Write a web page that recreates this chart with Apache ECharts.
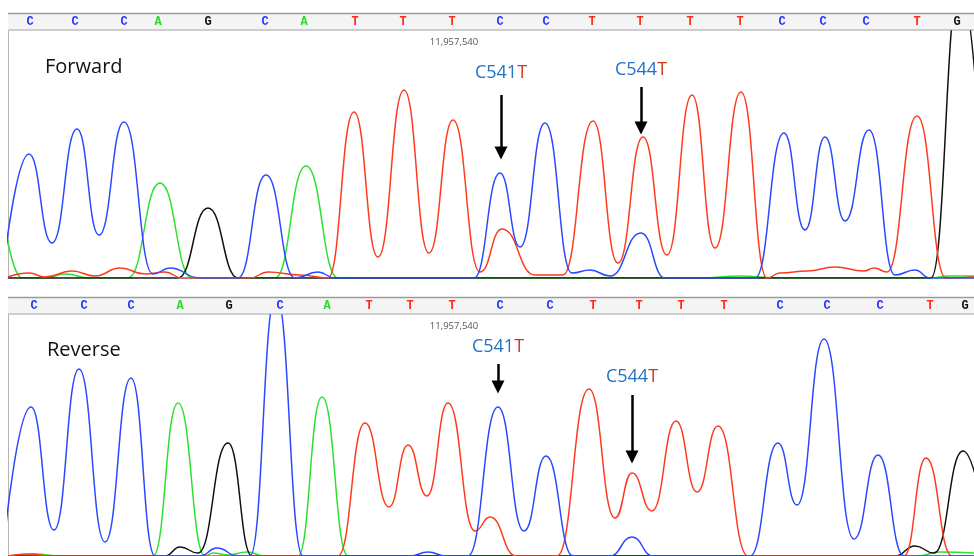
<!DOCTYPE html>
<html><head><meta charset="utf-8">
<script src="https://cdn.jsdelivr.net/npm/echarts@6/dist/echarts.min.js"></script>
<style>html,body{margin:0;padding:0;background:#fff}#c{width:974px;height:556px}</style>
</head><body><div id="c"></div>
<script>
// ---- base calls ----
const bases = ['C','C','C','A','G','C','A','T','T','T','C','C','T','T','T','T','C','C','C','T','G'];
const forwardBasePos = [30,75,124,158,208,265,304,355,403,452,500,546,592,640,690,740,782,823,866,917,957];
const reverseBasePos = [34,84,131,180,229,280,327,369,410,452,500,550,593,639,681,724,780,827,880,930,965];
const positionLabel = '11,957,540';

// ---- mutations ----
const mutRef = ['C','C'];
const mutNum = ['541','544'];
const mutAlt = ['T','T'];
const forwardMutX = [501, 641];
const forwardMutLabelY = [205, 208.5];
const forwardArrowFrom = [183, 191];
const forwardArrowTo = [125, 150];
const reverseMutX = [498, 632];
const reverseMutLabelY = [209, 179];
const reverseArrowFrom = [192, 161];
const reverseArrowTo = [169, 99];

// ---- Forward traces: [scan, signal] extrema ----
const fwdC = [[6,30],[29,124],[52,35],[77,149],[99,43],[124,156],[153,4],[170,10],[200,0],[238,0],[266,103],[295,0],[318,6],[335,0],[474,0],[500,105],[520,31],[545,155],[572,5],[590,8],[610,2],[641,45],[665,0],[755,0],[784,145],[805,48],[825,141],[845,57],[869,148],[895,3],[915,8],[930,0],[974,0]];
const fwdA = [[4,56],[22,0],[45,0],[65,4],[90,0],[128,0],[160,95],[192,0],[275,0],[306,112],[338,0],[700,0],[740,2],[780,0],[930,0],[950,2],[974,2]];
const fwdG = [[8,0],[178,0],[208,70],[238,0],[931,0],[960,295],[988,0]];
const fwdT = [[8,1],[29,5],[45,1],[72,7],[95,2],[120,10],[145,4],[165,6],[182,0],[250,0],[268,6],[300,3],[328,0],[354,166],[378,21],[404,188],[429,25],[453,158],[480,6],[502,49],[535,3],[563,3],[593,157],[618,15],[643,141],[667,23],[692,183],[715,30],[741,186],[767,0],[780,5],[807,7],[835,11],[864,7],[874,10],[887,6],[917,162],[946,0],[974,1]];

// ---- Reverse traces ----
const revC = [[5,22],[31,149],[54,26],[79,187],[105,14],[131,178],[155,0],[200,0],[217,8],[238,0],[250,0],[276,262],[303,0],[410,0],[428,4],[446,0],[468,0],[498,149],[524,25],[546,100],[573,0],[610,0],[632,19],[653,0],[750,0],[778,113],[797,51],[824,217],[854,17],[878,101],[904,0],[974,0]];
const revA = [[8,0],[35,2],[60,0],[153,0],[178,153],[205,0],[213,3],[228,1],[247,4],[265,0],[298,0],[322,159],[348,0],[917,0],[940,4],[974,3]];
const revG = [[8,0],[165,0],[180,9],[198,3],[228,113],[252,0],[895,0],[915,10],[934,3],[963,105],[990,0]];
const revT = [[8,0],[30,2],[50,0],[338,0],[365,133],[389,49],[408,111],[427,60],[448,153],[475,25],[490,39],[516,0],[557,0],[589,167],[615,38],[632,83],[652,45],[676,135],[697,64],[718,130],[748,0],[904,0],[926,98],[952,0],[974,0]];

const baseColor = {A:'#22dd22', C:'#2433ff', G:'#111111', T:'#ff2a1a'};
const traceColor = {A:'#2ee02e', C:'#2a48ff', G:'#111111', T:'#ff3a1c'};
const mutBlue = '#1f72c8', mutRed = '#cc3a22';

const chart = echarts.init(document.getElementById('c'), null, {renderer:'canvas'});

function hiddenX(gi){ return {gridIndex:gi, type:'value', min:8, max:974, show:false}; }
function traceX(gi){ return {gridIndex:gi, type:'value', min:8, max:974,
  axisLine:{show:true, onZero:false, lineStyle:{color:'#aaaaaa', width:1}}, axisTick:{show:false}, axisLabel:{show:false}, splitLine:{show:false}}; }
function traceY(gi, max){ return {gridIndex:gi, type:'value', min:0, max:max,
  axisLine:{show:true, lineStyle:{color:'#b4b4b4', width:1}}, axisTick:{show:false}, axisLabel:{show:false}, splitLine:{show:false}}; }

function baseSeries(gi, pos){
  return {type:'scatter', xAxisIndex:gi, yAxisIndex:gi, symbolSize:0, silent:true, z:5,
    itemStyle:{opacity:1},
    data: bases.map((b,i)=>({value:[pos[i],0.5], label:{color:baseColor[b]}, name:b})),
    label:{show:true, position:'inside', formatter:p=>p.name,
      fontFamily:'Liberation Mono', fontWeight:'bold', fontSize:12}};
}
function trace(gi, data, b){
  return {type:'line', xAxisIndex:gi, yAxisIndex:gi, data:data, showSymbol:false, silent:true,
    smooth:0.5, smoothMonotone:'x', clip:true,
    lineStyle:{color:traceColor[b], width:1.5}, z:2};
}
function mutSeries(gi, xs, ly, from, to){
  return {type:'scatter', xAxisIndex:gi, yAxisIndex:gi, symbolSize:0, silent:true, z:6,
    itemStyle:{opacity:1},
    data: xs.map((x,i)=>({value:[x, ly[i]], name: mutRef[i]+mutNum[i]+'|'+mutAlt[i]})),
    label:{show:true, position:'inside', formatter:p=>{const s=p.name.split('|'); return '{r|'+s[0]+'}{a|'+s[1]+'}';},
      rich:{r:{color:mutBlue, fontSize:18, fontFamily:'Open Sans', textBorderWidth:0}, a:{color:mutRed, fontSize:18, fontFamily:'Open Sans', textBorderWidth:0}}},
    markLine:{silent:true, symbol:['none','triangle'], symbolSize:13, animation:false,
      itemStyle:{color:'#000'},
      lineStyle:{color:'#000', width:2.5, type:'solid', opacity:1}, label:{show:false},
      data: xs.map((x,i)=>[{coord:[x, from[i]]},{coord:[x, to[i]]}])}
  };
}

const option = {
  animation:false,
  backgroundColor:'#ffffff',
  grid:[
    {left:8, right:0, top:13, height:17},
    {left:8, right:0, top:31, height:247},
    {left:8, right:0, top:297, height:17},
    {left:8, right:0, top:315, height:241}
  ],
  xAxis:[hiddenX(0), traceX(1), hiddenX(2), traceX(3)],
  yAxis:[
    {gridIndex:0, min:0, max:1, show:false},
    traceY(1, 247),
    {gridIndex:2, min:0, max:1, show:false},
    traceY(3, 241)
  ],
  graphic:[
    {type:'rect', shape:{x:8, y:13, width:966, height:17}, style:{fill:'#f4f4f4'}, z:0, silent:true},
    {type:'line', shape:{x1:8, y1:13.5, x2:974, y2:13.5}, style:{stroke:'#9c9c9c', lineWidth:1.5}, z:1, silent:true},
    {type:'line', shape:{x1:8, y1:30, x2:974, y2:30}, style:{stroke:'#cdcdcd', lineWidth:2}, z:1, silent:true},
    {type:'rect', shape:{x:8, y:297, width:966, height:17}, style:{fill:'#f4f4f4'}, z:0, silent:true},
    {type:'line', shape:{x1:8, y1:297.5, x2:974, y2:297.5}, style:{stroke:'#9c9c9c', lineWidth:1.5}, z:1, silent:true},
    {type:'line', shape:{x1:8, y1:314, x2:974, y2:314}, style:{stroke:'#cdcdcd', lineWidth:2}, z:1, silent:true},
    {type:'text', x:454, y:42, style:{text:positionLabel, fill:'#555', font:'9.5px "Open Sans"', textAlign:'center', textVerticalAlign:'middle'}, z:3, silent:true},
    {type:'text', x:454, y:326, style:{text:positionLabel, fill:'#555', font:'9.5px "Open Sans"', textAlign:'center', textVerticalAlign:'middle'}, z:3, silent:true},
    {type:'text', x:45, y:67, style:{text:'Forward', fill:'#111', font:'20px "Open Sans"', textAlign:'left', textVerticalAlign:'middle'}, z:3, silent:true},
    {type:'text', x:47, y:350, style:{text:'Reverse', fill:'#111', font:'20px "Open Sans"', textAlign:'left', textVerticalAlign:'middle'}, z:3, silent:true}
  ],
  series:[
    baseSeries(0, forwardBasePos),
    baseSeries(2, reverseBasePos),
    trace(1, fwdA, 'A'), trace(1, fwdG, 'G'), trace(1, fwdT, 'T'), trace(1, fwdC, 'C'),
    trace(3, revA, 'A'), trace(3, revG, 'G'), trace(3, revT, 'T'), trace(3, revC, 'C'),
    mutSeries(1, forwardMutX, forwardMutLabelY, forwardArrowFrom, forwardArrowTo),
    mutSeries(3, reverseMutX, reverseMutLabelY, reverseArrowFrom, reverseArrowTo)
  ]
};
chart.setOption(option);
</script>
</body></html>
